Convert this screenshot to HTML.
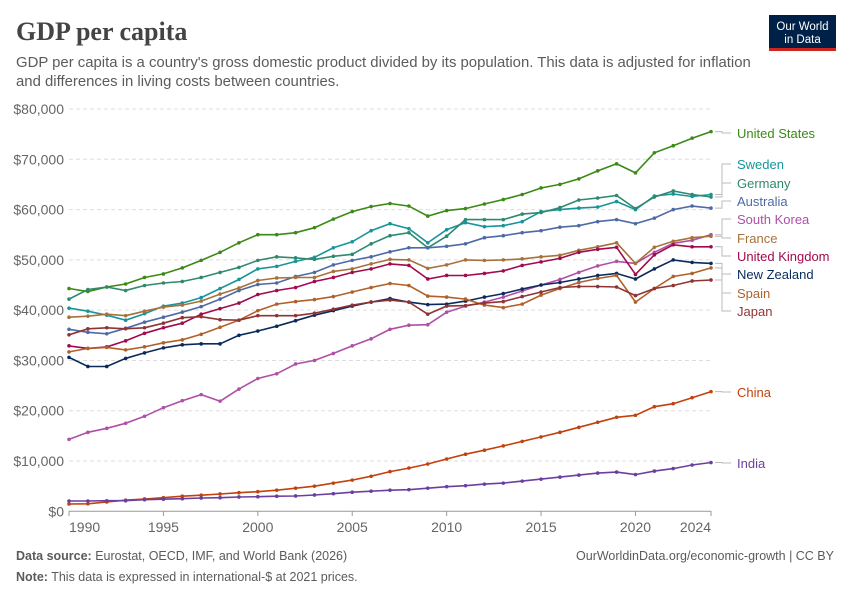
<!DOCTYPE html>
<html><head><meta charset="utf-8"><style>
body{margin:0;background:#fff;width:850px;height:600px;overflow:hidden;font-family:"Liberation Sans",sans-serif}
</style></head><body>
<svg id="c" width="850" height="600" xmlns="http://www.w3.org/2000/svg">
<text x="16" y="40" font-family="Liberation Serif,serif" font-size="26" font-weight="bold" fill="#444">GDP per capita</text>
<text x="16" y="67" font-size="14.9" fill="#5b5b5b">GDP per capita is a country's gross domestic product divided by its population. This data is adjusted for inflation</text>
<text x="16" y="86" font-size="14.9" fill="#5b5b5b">and differences in living costs between countries.</text>
<g>
<rect x="769" y="15" width="67" height="36" fill="#002147"/>
<rect x="769" y="48" width="67" height="3" fill="#ce261e"/>
<text x="802.5" y="30" font-size="11.5" fill="#fff" text-anchor="middle">Our World</text>
<text x="802.5" y="43" font-size="11.5" fill="#fff" text-anchor="middle">in Data</text>
</g>
<g id="grid"></g><g id="series"></g><g id="labels"></g>
<text x="16" y="560" font-size="12.5" fill="#5b5b5b"><tspan font-weight="bold">Data source:</tspan> Eurostat, OECD, IMF, and World Bank (2026)</text>
<text x="834" y="560" font-size="12.5" fill="#5b5b5b" text-anchor="end">OurWorldinData.org/economic-growth | CC BY</text>
<text x="16" y="581" font-size="12.5" fill="#5b5b5b"><tspan font-weight="bold">Note:</tspan> This data is expressed in international-$ at 2021 prices.</text>
</svg>
<script>
const years=[];for(let y=1990;y<=2024;y++)years.push(y);
const yTicks=[0,10000,20000,30000,40000,50000,60000,70000,80000];
const xTicks=[1990,1995,2000,2005,2010,2015,2020,2024];
const names=["United States","Sweden","Germany","Australia","South Korea","France","United Kingdom","New Zealand","Spain","Japan","China","India"];
const colors=["#3a8a15","#18949b","#2e8a6f","#4e6aa6","#b04fa6","#a7713c","#a10a4c","#0b2a5c","#b0612a","#8f3434","#c2410c","#6b3fa0"];
const labelY=[133,164,183,201,219,238,256,274,293,311,392,463];
const usa=[44.3,43.7,44.6,45.2,46.5,47.2,48.4,49.9,51.5,53.4,55.0,55.0,55.4,56.4,58.1,59.6,60.6,61.2,60.7,58.7,59.8,60.2,61.1,62.0,63.0,64.3,65.0,66.1,67.7,69.1,67.3,71.3,72.7,74.2,75.5];
const sweden=[40.4,39.8,39.0,38.0,39.3,40.8,41.4,42.5,44.3,46.1,48.2,48.7,49.7,50.5,52.4,53.6,55.8,57.2,56.2,53.4,56.0,57.4,56.6,56.8,57.6,59.6,60.0,60.3,60.5,61.6,60.0,62.7,63.1,62.6,63.0];
const germany=[42.2,44.1,44.6,43.9,44.9,45.4,45.7,46.5,47.5,48.5,49.9,50.6,50.4,50.1,50.7,51.1,53.2,54.8,55.4,52.4,54.7,58.0,58.0,58.0,59.1,59.4,60.4,61.9,62.3,62.8,60.2,62.5,63.7,63.0,62.5];
const australia=[36.2,35.6,35.3,36.4,37.6,38.6,39.6,40.7,42.2,43.9,45.1,45.4,46.7,47.5,49.0,49.9,50.6,51.6,52.4,52.4,52.7,53.2,54.4,54.8,55.4,55.8,56.5,56.8,57.6,58.0,57.2,58.3,60.0,60.7,60.3];
const korea=[14.3,15.7,16.5,17.5,18.9,20.6,22.0,23.2,21.9,24.3,26.4,27.35,29.3,30.0,31.4,32.9,34.3,36.2,37.0,37.1,39.6,40.8,41.6,42.6,43.8,45.0,46.1,47.5,48.8,49.7,49.3,51.5,53.3,53.9,55.0];
const france=[38.6,38.8,39.2,38.9,39.8,40.6,41.0,41.8,43.2,44.4,45.9,46.4,46.5,46.5,47.7,48.2,49.2,50.1,50.0,48.3,49.0,50.0,49.9,50.0,50.2,50.6,50.9,51.9,52.6,53.4,49.3,52.5,53.7,54.4,54.7];
const uk=[32.9,32.4,32.7,33.9,35.4,36.5,37.4,39.2,40.3,41.4,43.1,43.9,44.5,45.7,46.5,47.5,48.2,49.2,48.9,46.2,46.9,46.9,47.3,47.8,48.9,49.6,50.3,51.5,52.1,52.5,47.1,51.0,53.0,52.6,52.6];
const nz=[30.6,28.8,28.8,30.4,31.5,32.5,33.1,33.3,33.3,35.0,35.85,36.8,37.9,39.0,39.9,40.8,41.6,42.3,41.6,41.1,41.2,41.8,42.6,43.3,44.2,45.0,45.5,46.2,46.9,47.3,46.2,48.2,50.0,49.5,49.3];
const spain=[31.7,32.4,32.6,32.1,32.7,33.5,34.1,35.2,36.6,38.0,39.9,41.2,41.7,42.1,42.7,43.6,44.5,45.3,44.9,42.8,42.6,42.2,41.0,40.5,41.2,43.0,44.3,45.5,46.3,46.9,41.6,44.3,46.7,47.3,48.4];
const japan=[35.1,36.3,36.5,36.3,36.5,37.4,38.5,38.7,38.1,38.0,38.9,38.9,38.9,39.4,40.2,41.0,41.6,42.0,41.6,39.2,40.8,40.9,41.4,41.7,42.7,43.6,44.5,44.7,44.7,44.6,42.9,44.3,44.9,45.8,46.0];
const china=[1.45,1.5,1.85,2.2,2.45,2.7,3.0,3.2,3.45,3.7,3.9,4.2,4.6,5.0,5.6,6.2,6.97,7.9,8.6,9.4,10.4,11.35,12.15,13.0,13.9,14.8,15.7,16.7,17.7,18.7,19.1,20.8,21.4,22.6,23.8];
const india=[2.05,2.05,2.1,2.1,2.3,2.4,2.5,2.65,2.7,2.85,2.9,3.0,3.05,3.25,3.5,3.8,4.0,4.2,4.3,4.6,4.9,5.1,5.4,5.6,6.0,6.4,6.8,7.2,7.6,7.8,7.3,8.0,8.5,9.2,9.7];
const series=[usa,sweden,germany,australia,korea,france,uk,nz,spain,japan,china,india];
const NS="http://www.w3.org/2000/svg";
const X=y=>69+(y-1990)*(711-69)/34;
const Y=v=>511.3-v*402.3/80000;
function mk(t,a,p){const e=document.createElementNS(NS,t);for(const k in a)e.setAttribute(k,a[k]);p.appendChild(e);return e;}
const grid=document.getElementById('grid');
yTicks.forEach(v=>{
 const l=mk('line',{x1:69,x2:711,y1:Y(v),y2:Y(v),stroke:v?'#ddd':'#999','stroke-dasharray':v?'4,3':'none'},grid);
 
 
 const t=mk('text',{x:64,y:Y(v)+5,'font-size':14,fill:'#666','text-anchor':'end'},grid);
 t.textContent='$'+v.toLocaleString('en-US');
 
 
});
xTicks.forEach((y,i)=>{
 const l=mk('line',{x1:X(y),x2:X(y),y1:511,y2:516,stroke:'#999'},grid);
 
 
 const anchor=i==0?'start':(i==xTicks.length-1?'end':'middle');
 const t=mk('text',{x:X(y),y:532,'font-size':14,fill:'#666','text-anchor':anchor},grid);
 t.textContent=y;
 
 
});
const sg=document.getElementById('series'),lg=document.getElementById('labels');
series.forEach((s,i)=>{
 const g=mk('g',{},sg);
 
 
 const pts=s.map((v,j)=>X(years[j]).toFixed(1)+','+Y(v*1000).toFixed(1)).join(' ');
 mk('polyline',{points:pts,fill:'none',stroke:colors[i],'stroke-width':1.6},g);
 s.forEach((v,j)=>{const c=mk('circle',{cx:X(years[j]),cy:Y(v*1000),r:1.8,fill:colors[i]},g);
  
  });
 const ey=Y(s[s.length-1]*1000);
 const cn=mk('polyline',{points:`715,${ey} 722,${ey} 722,${labelY[i]} 731,${labelY[i]}`,fill:'none',stroke:'#bbb','stroke-width':1},lg);
 
 
 const t=mk('text',{x:737,y:labelY[i]+5,'font-size':13,fill:colors[i]},lg);
 t.textContent=names[i];
 
 
});
</script>
</body></html>
